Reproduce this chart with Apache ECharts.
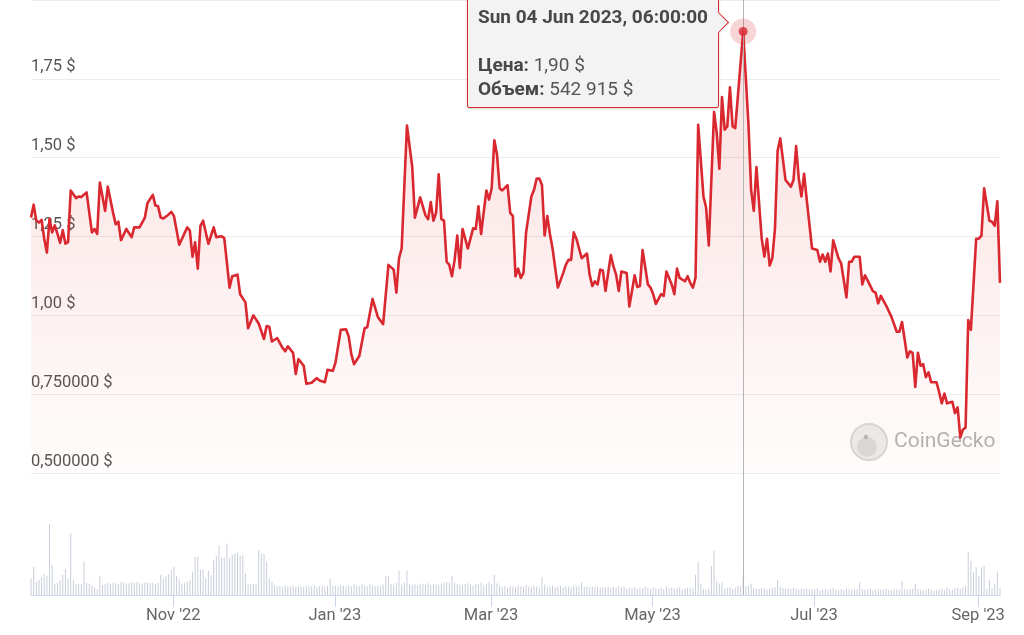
<!DOCTYPE html>
<html>
<head>
<meta charset="utf-8">
<script src="https://cdn.jsdelivr.net/npm/echarts@6/dist/echarts.min.js"></script>
<style>
html,body{margin:0;padding:0;background:#ffffff;}
#chart{width:1024px;height:635px;}
</style>
</head>
<body>
<div id="chart"></div>
<script>
// ---------- DATA ----------
const priceDates = [
  '2022-09-08','2022-09-09','2022-09-10','2022-09-11','2022-09-12','2022-09-13','2022-09-14','2022-09-15','2022-09-16','2022-09-17','2022-09-18','2022-09-19','2022-09-20','2022-09-21','2022-09-22','2022-09-23','2022-09-25','2022-09-26','2022-09-27','2022-09-29',
  '2022-10-01','2022-10-02','2022-10-03','2022-10-04','2022-10-05','2022-10-06','2022-10-07','2022-10-09','2022-10-10','2022-10-11','2022-10-12','2022-10-14','2022-10-16','2022-10-17','2022-10-19','2022-10-21','2022-10-22','2022-10-24','2022-10-25','2022-10-26','2022-10-27','2022-10-28','2022-10-30','2022-10-31',
  '2022-11-01','2022-11-03','2022-11-06','2022-11-07','2022-11-08','2022-11-09','2022-11-10','2022-11-11','2022-11-12','2022-11-14','2022-11-16','2022-11-17','2022-11-19','2022-11-20','2022-11-22','2022-11-23','2022-11-25','2022-11-26','2022-11-28','2022-11-29',
  '2022-12-01','2022-12-03','2022-12-05','2022-12-06','2022-12-07','2022-12-08','2022-12-10','2022-12-12','2022-12-13','2022-12-14','2022-12-16','2022-12-17','2022-12-18','2022-12-20','2022-12-21','2022-12-23','2022-12-25','2022-12-26','2022-12-28','2022-12-29','2022-12-31',
  '2023-01-01','2023-01-03','2023-01-05','2023-01-06','2023-01-07','2023-01-08','2023-01-10','2023-01-12','2023-01-13','2023-01-15','2023-01-17','2023-01-19','2023-01-21','2023-01-23','2023-01-24','2023-01-25','2023-01-26','2023-01-28','2023-01-30','2023-01-31',
  '2023-02-02','2023-02-04','2023-02-05','2023-02-06','2023-02-07','2023-02-08','2023-02-09','2023-02-10','2023-02-11','2023-02-12','2023-02-13','2023-02-14','2023-02-15','2023-02-16','2023-02-17','2023-02-18','2023-02-20','2023-02-22','2023-02-23','2023-02-24','2023-02-25','2023-02-27','2023-02-28',
  '2023-03-01','2023-03-02','2023-03-03','2023-03-04','2023-03-05','2023-03-07','2023-03-08','2023-03-09','2023-03-10','2023-03-11','2023-03-12','2023-03-13','2023-03-14','2023-03-16','2023-03-17','2023-03-18','2023-03-19','2023-03-20','2023-03-21','2023-03-22','2023-03-23','2023-03-24','2023-03-26','2023-03-28','2023-03-29','2023-03-30','2023-03-31',
  '2023-04-01','2023-04-02','2023-04-04','2023-04-06','2023-04-07','2023-04-08','2023-04-09','2023-04-10','2023-04-11','2023-04-12','2023-04-13','2023-04-15','2023-04-16','2023-04-17','2023-04-18','2023-04-19','2023-04-21','2023-04-22','2023-04-24','2023-04-25','2023-04-26','2023-04-27','2023-04-29','2023-04-30',
  '2023-05-01','2023-05-02','2023-05-04','2023-05-05','2023-05-06','2023-05-08','2023-05-09','2023-05-10','2023-05-11','2023-05-13','2023-05-14','2023-05-15','2023-05-16','2023-05-17','2023-05-18','2023-05-20','2023-05-21','2023-05-22','2023-05-24','2023-05-25','2023-05-26','2023-05-27','2023-05-28','2023-05-29','2023-05-30','2023-05-31',
  '2023-06-01','2023-06-04','2023-06-06','2023-06-07','2023-06-08','2023-06-09','2023-06-11','2023-06-12','2023-06-13','2023-06-14','2023-06-15','2023-06-16','2023-06-17','2023-06-18','2023-06-20','2023-06-22','2023-06-23','2023-06-24','2023-06-25','2023-06-26','2023-06-27','2023-06-28','2023-06-30',
  '2023-07-02','2023-07-03','2023-07-04','2023-07-05','2023-07-06','2023-07-07','2023-07-08','2023-07-10','2023-07-11','2023-07-13','2023-07-14','2023-07-15','2023-07-16','2023-07-18','2023-07-19','2023-07-20','2023-07-21','2023-07-23','2023-07-24','2023-07-25','2023-07-26','2023-07-28','2023-07-30',
  '2023-08-01','2023-08-02','2023-08-03','2023-08-05','2023-08-06','2023-08-07','2023-08-08','2023-08-09','2023-08-10','2023-08-11','2023-08-12','2023-08-13','2023-08-14','2023-08-16','2023-08-17','2023-08-18','2023-08-19','2023-08-20','2023-08-22','2023-08-23','2023-08-24','2023-08-25','2023-08-26','2023-08-27','2023-08-28','2023-08-29','2023-08-31',
  '2023-09-01','2023-09-02','2023-09-03','2023-09-05','2023-09-06','2023-09-07','2023-09-08','2023-09-09'
];
const priceValues = [
  1.310,1.351,1.301,1.294,1.303,1.243,1.199,1.307,1.263,1.285,1.258,1.230,1.270,1.227,1.232,1.396,1.372,1.377,1.375,1.390,
  1.263,1.274,1.258,1.421,1.377,1.331,1.408,1.325,1.289,1.297,1.238,1.274,1.248,1.279,1.279,1.310,1.356,1.382,1.348,1.346,1.310,1.307,1.320,1.328,
  1.315,1.224,1.279,1.269,1.186,1.232,1.148,1.284,1.300,1.227,1.279,1.248,1.251,1.245,1.088,1.124,1.129,1.067,1.041,0.959,
  1.000,0.974,0.925,0.966,0.964,0.917,0.928,0.897,0.886,0.902,0.881,0.814,0.861,0.840,0.783,0.786,0.801,0.793,0.788,0.827,0.824,
  0.850,0.954,0.956,0.933,0.876,0.845,0.871,0.959,0.962,1.052,0.995,0.972,1.160,1.145,1.072,1.181,1.212,1.602,1.470,1.310,
  1.374,1.317,1.305,1.359,1.300,1.325,1.447,1.305,1.300,1.170,1.160,1.124,1.176,1.253,1.150,1.274,1.212,1.276,1.274,1.346,1.258,1.396,1.367,
  1.403,1.555,1.511,1.403,1.396,1.413,1.325,1.315,1.124,1.148,1.119,1.134,1.263,1.377,1.398,1.434,1.434,1.413,1.253,1.315,1.258,1.212,1.088,1.134,1.160,1.176,1.176,
  1.263,1.243,1.181,1.196,1.129,1.093,1.108,1.098,1.145,1.142,1.077,1.191,1.155,1.129,1.077,1.139,1.134,1.028,1.127,1.090,1.093,1.207,1.098,1.088,
  1.067,1.036,1.067,1.062,1.139,1.098,1.067,1.148,1.119,1.108,1.124,1.103,1.088,1.119,1.604,1.377,1.341,1.222,1.645,1.579,1.465,1.692,1.589,1.599,1.723,1.599,
  1.594,1.900,1.604,1.398,1.331,1.470,1.243,1.186,1.243,1.158,1.181,1.274,1.522,1.561,1.429,1.408,1.429,1.537,1.434,1.377,1.449,1.367,1.212,
  1.207,1.170,1.193,1.170,1.196,1.139,1.238,1.181,1.165,1.057,1.170,1.170,1.186,1.186,1.098,1.127,1.111,1.077,1.072,1.038,1.062,1.031,0.995,
  0.948,0.948,0.979,0.866,0.886,0.881,0.773,0.881,0.840,0.845,0.804,0.819,0.788,0.788,0.757,0.721,0.752,0.721,0.726,0.690,0.708,0.613,0.638,0.644,0.985,0.954,1.243,
  1.243,1.253,1.403,1.300,1.297,1.284,1.362,1.103
];
// daily volume (thousands of $), one value per day starting at volumeStartDate
const volumeStartDate = '2022-09-08';
const volumeThousands = [
  450,760,360,410,480,570,520,1930,815,315, 335,410,545,700,450,1675,410,315,300,300, 905,335,315,270,210,155,500,270,
  300,330,310,340,320,300,350,330,310,320, 340,330,350,320,310,345,335,330,320,300, 330,
  545,450,500,570,680,770,515,425,315,335, 360,410,635,1040,1040,680,680,450,660,545,
  950,1060,1360,1020,1020,1400,995,1085,1130,1150, 1060,1085,590,315,300,300,300,1220,1110,1110, 905,450,360,270,
  230,250,220,260,240,230,250,210,240,230, 220,250,240,230,260,220,240,250,230,260,
  450,240,250,230,270,250,240,260,230,280, 250,240,300,260,240,290,250,230,260,240,
  280,515,515,300,280,330,660,280,340,660, 300,280,290,260,310,300,280,320,270,290,
  300,280,310,330,360,340,500,330,300,280, 260,300,320,280,260,300,290,330,280,310, 350,300,545,320,
  260,220,240,200,250,230,210,260,240,220, 270,230,210,250,230,200,480,280,220,240,
  260,210,230,250,220,240,230,210,250,230, 240,345,220,230,210,240,220,230,200,220,
  210,230,200,220,190,240,210,230,180,200, 190,220,170,200,180,230,190,160,210,180,
  170,200,160,240,180,200,170,190,210,160, 180,200,190,170,
  545,900,300,165,140,180,790,1200,390,315, 345,165,200,210,165,190,245,230,542.915,245, 245,315,
  200,170,160,190,180,150,170,200,220,410, 230,190,170,180,160,190,170,150,180,160,
  170,150,140,160,180,130,150,170,140,160, 190,150,130,160,140,180,150,130,160,150,
  345,160,140,150,170,130,150,160,140,150, 170,140,130,160,150,140,370,160,140,150,
  170,300,160,140,130,150,170,140,120,130, 150,170,130,190,160,140,180,200,170,220, 240,
  1160,930,615,750,500,750,800,165,410,190,315,635,190
];
const yTickValues = [0.5, 0.75, 1.0, 1.25, 1.5, 1.75];
const yTickLabels = ['0,500000 $', '0,750000 $', '1,00 $', '1,25 $', '1,50 $', '1,75 $'];
const xTickDates = ['2022-11-01', '2023-01-01', '2023-03-01', '2023-05-01', '2023-07-01', '2023-09-01'];
const xTickLabels = ["Nov '22", "Jan '23", "Mar '23", "May '23", "Jul '23", "Sep '23"];
const focusDate = '2023-06-04';
const seriesNames = { price: 'Цена', volume: 'Объем' };
const watermarkText = 'CoinGecko';

// ---------- HELPERS ----------
function toTs(s, hour) {
  const p = s.split('-').map(Number);
  return new Date(p[0], p[1] - 1, p[2], hour || 0).getTime();
}
function addDaysTs(s, n, hour) {
  const p = s.split('-').map(Number);
  return new Date(p[0], p[1] - 1, p[2] + n, hour || 0).getTime();
}
const HOUR = 6;
const priceData = priceDates.map((d, i) => [toTs(d, HOUR), priceValues[i]]);
const volumeData = volumeThousands.map((v, i) => [addDaysTs(volumeStartDate, i, HOUR), v * 1000]);
const xMin = priceData[0][0];
const xMax = priceData[priceData.length - 1][0];
const xTickTs = xTickDates.map(d => toTs(d, 0));

const focusIdx = priceDates.indexOf(focusDate);
const focusTs = priceData[focusIdx][0];
const focusPrice = priceValues[focusIdx];
function dayNum(s) { const p = s.split('-').map(Number); return Date.UTC(p[0], p[1] - 1, p[2]) / 86400000; }
const focusVolIdx = Math.round(dayNum(focusDate) - dayNum(volumeStartDate));
const focusVolume = volumeThousands[focusVolIdx] * 1000;

const DOW = ['Sun', 'Mon', 'Tue', 'Wed', 'Thu', 'Fri', 'Sat'];
const MON = ['Jan', 'Feb', 'Mar', 'Apr', 'May', 'Jun', 'Jul', 'Aug', 'Sep', 'Oct', 'Nov', 'Dec'];
const pad = n => String(n).padStart(2, '0');
function fmtDate(ts) {
  const d = new Date(ts);
  return DOW[d.getDay()] + ' ' + pad(d.getDate()) + ' ' + MON[d.getMonth()] + ' ' + d.getFullYear() +
    ', ' + pad(d.getHours()) + ':' + pad(d.getMinutes()) + ':' + pad(d.getSeconds());
}
function fmtPrice(v) { return v.toFixed(2).replace('.', ',') + ' $'; }
function fmtVol(v) { return String(Math.round(v)).replace(/\B(?=(\d{3})+(?!\d))/g, ' ') + ' $'; }

const RED = '#d9282f';
const TIP_BG = '#f3f3f3';

const chart = echarts.init(document.getElementById('chart'));
const option = {
  animation: false,
  textStyle: { fontFamily: 'Roboto, "Noto Sans", sans-serif' },
  grid: [
    { left: 31, right: 24, top: -7, bottom: 162 },
    { left: 31, right: 24, top: 473, bottom: 40 }
  ],
  xAxis: [
    { type: 'value', gridIndex: 0, min: xMin, max: xMax, show: false, splitLine: { show: false } },
    {
      type: 'value', gridIndex: 1, min: xMin, max: xMax,
      axisLine: { show: true, lineStyle: { color: '#ccd6eb', width: 1 } },
      axisTick: { show: true, length: 12, customValues: xTickTs, lineStyle: { color: '#ccd6eb' } },
      axisLabel: {
        customValues: xTickTs, color: '#666666', fontSize: 16.5, margin: 12,
        showMinLabel: true, showMaxLabel: true,
        formatter: v => { const i = xTickTs.indexOf(v); return i >= 0 ? xTickLabels[i] : ''; }
      },
      splitLine: { show: false }
    }
  ],
  yAxis: [
    {
      type: 'value', gridIndex: 0, min: 0.5, max: 2.0, interval: 0.25,
      axisLine: { show: false }, axisTick: { show: false },
      axisLabel: {
        inside: true, verticalAlign: 'bottom', margin: 0, padding: [0, 0, 3, 0],
        color: '#555555', fontSize: 16.5,
        formatter: v => { const i = yTickValues.findIndex(t => Math.abs(t - v) < 1e-9); return i >= 0 ? yTickLabels[i] : ''; }
      },
      splitLine: { show: true, lineStyle: { color: '#ececec', width: 1 } }
    },
    { type: 'value', gridIndex: 1, min: 0, max: 3312000, show: false, splitLine: { show: false } }
  ],
  tooltip: {
    trigger: 'item', triggerOn: 'none', alwaysShowContent: true, transitionDuration: 0,
    backgroundColor: TIP_BG, borderColor: RED, borderWidth: 1.5, borderRadius: 2,
    padding: [7, 10, 6, 10],
    extraCssText: 'box-shadow: 0 1px 3px rgba(0,0,0,0.18);',
    textStyle: { fontFamily: 'Roboto, "Noto Sans", sans-serif', fontSize: 19, color: '#444' },
    position: function (point, params, dom, rect, size) {
      return [point[0] - size.contentSize[0] - 24, -3];
    },
    formatter: function () {
      return '<div style="font-size:19px;line-height:24px;color:#484848;white-space:nowrap">' +
        '<div style="font-weight:bold">' + fmtDate(focusTs) + '</div>' +
        '<div>&nbsp;</div>' +
        '<div><b>' + seriesNames.price + ':</b> <span style="color:#555">' + fmtPrice(focusPrice) + '</span></div>' +
        '<div><b>' + seriesNames.volume + ':</b> <span style="color:#555">' + fmtVol(focusVolume) + '</span></div>' +
        '</div>' +
        '<div style="position:absolute;right:-8px;top:17px;width:14px;height:14px;background:' + TIP_BG +
        ';border-top:1.5px solid ' + RED + ';border-right:1.5px solid ' + RED + ';transform:rotate(45deg);"></div>';
    }
  },
  graphic: [
    { type: 'circle', z: 0, shape: { cx: 869, cy: 442, r: 18 }, style: { fill: '#ededed', stroke: '#d8d8d8', lineWidth: 2 } },
    { type: 'circle', z: 0, shape: { cx: 867, cy: 447, r: 10 }, style: { fill: '#dadada' } },
    { type: 'circle', z: 0, shape: { cx: 866, cy: 437, r: 2.2 }, style: { fill: '#b8b8b8' } },
    { type: 'text', z: 0, x: 894, y: 442, style: { text: watermarkText, fontSize: 21, fill: '#b4b4b4', fontFamily: 'Roboto, sans-serif', verticalAlign: 'middle' } }
  ],
  series: [
    {
      name: seriesNames.price, type: 'line', xAxisIndex: 0, yAxisIndex: 0,
      data: priceData, showSymbol: false, symbol: 'none', z: 3,
      lineStyle: { color: RED, width: 2.6, join: 'round' },
      itemStyle: { color: RED },
      areaStyle: {
        origin: 'start',
        color: new echarts.graphic.LinearGradient(0, 0, 0, 1, [
          { offset: 0, color: 'rgba(225,45,45,0.22)' },
          { offset: 1, color: 'rgba(225,45,45,0.02)' }
        ])
      },
      markLine: {
        silent: true, symbol: 'none', animation: false,
        label: { show: false },
        lineStyle: { color: '#b5b5b5', width: 1, type: 'solid' },
        data: [{ xAxis: focusTs }]
      }
    },
    {
      name: seriesNames.volume, type: 'bar', xAxisIndex: 1, yAxisIndex: 1,
      data: volumeData, barWidth: 1,
      itemStyle: { color: '#c9cedb' },
      markLine: {
        silent: true, symbol: 'none', animation: false,
        label: { show: false },
        lineStyle: { color: '#b5b5b5', width: 1, type: 'solid' },
        data: [{ xAxis: focusTs }]
      }
    },
    {
      type: 'scatter', xAxisIndex: 0, yAxisIndex: 0, z: 5, silent: true,
      data: [[focusTs, focusPrice]], symbolSize: 26,
      itemStyle: { color: 'rgba(217,40,47,0.25)' }
    },
    {
      type: 'scatter', xAxisIndex: 0, yAxisIndex: 0, z: 6,
      data: [[focusTs, focusPrice]], symbolSize: 9,
      itemStyle: { color: RED }
    }
  ]
};
chart.setOption(option);
chart.dispatchAction({ type: 'showTip', seriesIndex: 3, dataIndex: 0 });
</script>
</body>
</html>
